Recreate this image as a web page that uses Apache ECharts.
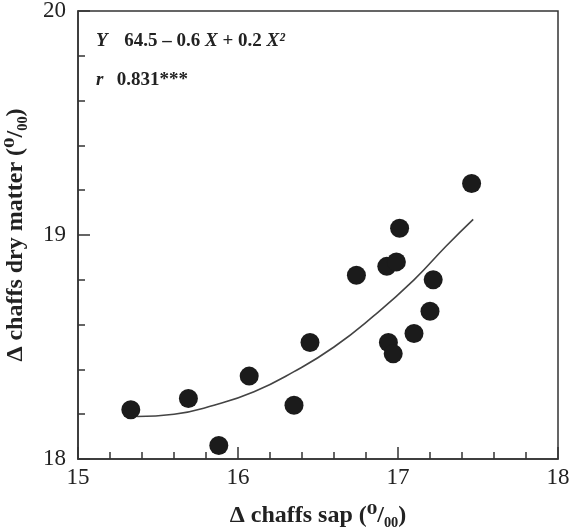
<!DOCTYPE html>
<html>
<head>
<meta charset="utf-8">
<script src="https://cdn.jsdelivr.net/npm/echarts@6/dist/echarts.min.js"></script>
<style>
html, body { margin: 0; padding: 0; background: #fff; }
#main { width: 569px; height: 528px; }
</style>
</head>
<body>
<div id="main"></div>
<script>
// measured points (x = chaffs sap, y = chaffs dry matter)
var sapX = [15.33, 15.69, 15.88, 16.07, 16.35, 16.45, 16.74, 16.93, 16.99, 17.01, 16.94, 16.97, 17.10, 17.20, 17.22, 17.46];
var dryY = [18.22, 18.27, 18.06, 18.37, 18.24, 18.52, 18.82, 18.86, 18.88, 19.03, 18.52, 18.47, 18.56, 18.66, 18.80, 19.23];

// fitted curve
var fitX = [15.37, 15.6, 15.85, 16.1, 16.35, 16.6, 16.85, 17.1, 17.3, 17.47];
var fitY = [18.19, 18.20, 18.24, 18.30, 18.39, 18.50, 18.64, 18.80, 18.95, 19.07];

var xTicks = [15, 16, 17, 18];
var yTicks = [18, 19, 20];

var serif = '"Liberation Serif", "DejaVu Serif", serif';

var pts = [];
for (var i = 0; i < sapX.length; i++) pts.push([sapX[i], dryY[i]]);
var fit = [];
for (var i = 0; i < fitX.length; i++) fit.push([fitX[i], fitY[i]]);

var myChart = echarts.init(document.getElementById('main'));

var textRich = {
	i: { fontFamily: serif, fontWeight: 'bold', fontStyle: 'italic', fontSize: 19, fill: '#222' },
	n: { fontFamily: serif, fontWeight: 'bold', fontSize: 19, fill: '#222' }
};

var option = {
	backgroundColor: '#fff',
	animation: false,
	grid: {
		left: 78,
		right: 11,
		top: 11,
		bottom: 69,
		outerBoundsMode: 'none',
		containLabel: false,
		show: true,
		borderColor: '#333',
		borderWidth: 1.5
	},
	xAxis: {
		type: 'value',
		min: xTicks[0],
		max: xTicks[xTicks.length - 1],
		interval: 1,
		name: 'Δ chaffs sap (⁰/₀₀)',
		nameLocation: 'middle',
		nameGap: 45,
		nameTextStyle: { fontFamily: serif, fontWeight: 'bold', fontSize: 24, color: '#222' },
		axisLine: { lineStyle: { color: '#333', width: 1.5 } },
		axisTick: { inside: true, length: 12, lineStyle: { color: '#333', width: 1.5 } },
		minorTick: { show: true, splitNumber: 5, length: 7, lineStyle: { color: '#333', width: 1.5 } },
		axisLabel: { fontFamily: serif, fontSize: 23, color: '#222', margin: 7 },
		splitLine: { show: false }
	},
	yAxis: {
		type: 'value',
		min: yTicks[0],
		max: yTicks[yTicks.length - 1],
		interval: 1,
		name: 'Δ chaffs dry matter (⁰/₀₀)',
		nameLocation: 'middle',
		nameGap: 50,
		nameTextStyle: { fontFamily: serif, fontWeight: 'bold', fontSize: 24, color: '#222' },
		axisLine: { lineStyle: { color: '#333', width: 1.5 } },
		axisTick: { inside: true, length: 12, lineStyle: { color: '#333', width: 1.5 } },
		minorTick: { show: true, splitNumber: 5, length: 7, lineStyle: { color: '#333', width: 1.5 } },
		axisLabel: { fontFamily: serif, fontSize: 23, color: '#222', margin: 12 },
		splitLine: { show: false }
	},
	graphic: [{
		type: 'text',
		left: 96,
		top: 32,
		style: {
			text: '{i|Y}     {n|64.5 – 0.6 }{i|X}{n| + 0.2 }{i|X²}',
			rich: textRich
		}
	}, {
		type: 'text',
		left: 96,
		top: 71,
		style: {
			text: '{i|r}    {n|0.831***}',
			rich: textRich
		}
	}],
	series: [{
		type: 'line',
		data: fit,
		smooth: true,
		showSymbol: false,
		lineStyle: { color: '#444', width: 1.6 },
		z: 1
	}, {
		type: 'scatter',
		data: pts,
		symbolSize: 19,
		itemStyle: { color: '#1b1b1b', opacity: 1 },
		z: 2
	}]
};

myChart.setOption(option);
</script>
</body>
</html>
